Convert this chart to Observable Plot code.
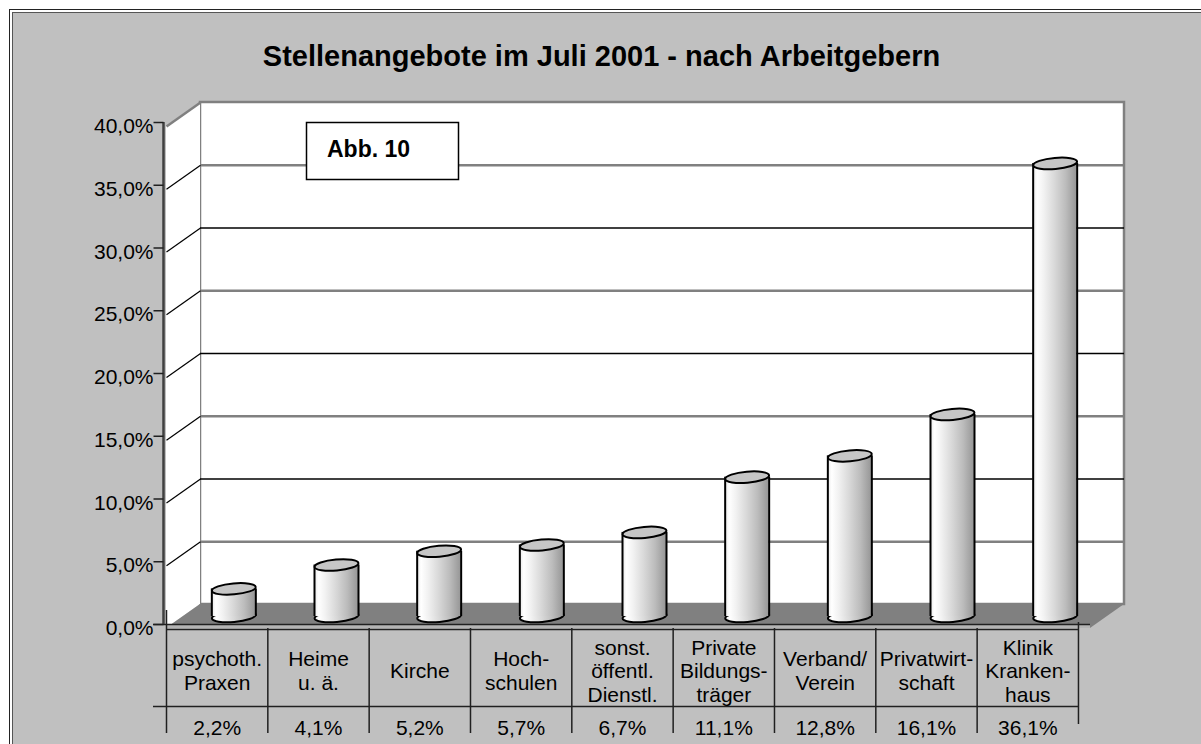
<!DOCTYPE html>
<html><head><meta charset="utf-8">
<script src="https://cdn.jsdelivr.net/npm/d3@7"></script>
<script src="https://cdn.jsdelivr.net/npm/@observablehq/plot@0.6"></script>
<style>html,body{margin:0;padding:0;background:#fff;overflow:hidden}#chart{position:absolute;left:0;top:0}</style>
</head><body><div id="chart"></div>
<script>
// ---- data ----
const categories = ["psychoth.\nPraxen","Heime\nu. ä.","Kirche","Hoch-\nschulen","sonst.\nöffentl.\nDienstl.","Private\nBildungs-\nträger","Verband/\nVerein","Privatwirt-\nschaft","Klinik\nKranken-\nhaus"];
const values = [2.2, 4.1, 5.2, 5.7, 6.7, 11.1, 12.8, 16.1, 36.1];
const valueLabels = ["2,2%","4,1%","5,2%","5,7%","6,7%","11,1%","12,8%","16,1%","36,1%"];
const yTicks = [0, 5, 10, 15, 20, 25, 30, 35, 40];
const title = "Stellenangebote im Juli 2001 - nach Arbeitgebern";
const figLabel = "Abb. 10";

// ---- layout ----
const W = 1201, H = 744;
const mL = 166, mR = W - 1090, mT = 126, mB = H - 628;
const n = categories.length;
const colW = (W - mL - mR) / n;
const kY = (H - mT - mB) / 40;
const ux = px => px / colW;
const uy = px => px / kY;
const DX = 34, DY = 24;              // 3D depth in px
const tableFrac = 101.33 / colW;     // table column width relative to plot column
const cylR = 22, cylRy = 5.5, cylDx = 16, cylDy = -12;
const FONT = "'Liberation Sans', Arial, Helvetica, sans-serif";
const fmtPct = v => v.toFixed(1).replace(".", ",") + "%";

const data = categories.map((c, i) => ({i, cat: c, v: values[i], label: valueLabels[i]}));

const K = 0.5523;
const ellipseSymbol = (rx, ry) => ({draw(ctx) {
  ctx.moveTo(rx, 0);
  ctx.bezierCurveTo(rx, ry*K, rx*K, ry, 0, ry);
  ctx.bezierCurveTo(-rx*K, ry, -rx, ry*K, -rx, 0);
  ctx.bezierCurveTo(-rx, -ry*K, -rx*K, -ry, 0, -ry);
  ctx.bezierCurveTo(rx*K, -ry, rx, -ry*K, rx, 0);
  ctx.closePath();
}});
const rectSymbol = (w, h) => ({draw(ctx) {
  ctx.moveTo(-w/2, -h/2); ctx.lineTo(w/2, -h/2); ctx.lineTo(w/2, h/2); ctx.lineTo(-w/2, h/2); ctx.closePath();
}});
const tickSymbol = {draw(ctx) { ctx.moveTo(-10, 0); ctx.lineTo(0, 0); }};

const sideWall = [{x: 0, y1: 0, y2: 40}, {x: ux(DX), y1: uy(DY), y2: 40 + uy(DY)}];
const floorPts = [
  {x: 0, y1: 0, y2: 0},
  {x: ux(DX), y1: 0, y2: uy(DY)},
  {x: n, y1: 0, y2: uy(DY)},
  {x: n + ux(DX), y1: uy(DY), y2: uy(DY)}
];
const inner = yTicks.filter(t => t > 0 && t < 40);
const cx = d => d.i + 0.5;

const plot = Plot.plot({
  width: W, height: H,
  marginLeft: mL, marginRight: mR, marginTop: mT, marginBottom: mB,
  x: {domain: [0, n], axis: null},
  y: {domain: [0, 40], axis: null},
  style: {background: "transparent", fontFamily: FONT, fontSize: "20px", color: "black", overflow: "visible"},
  marks: [
    // back wall
    Plot.rect([0], {x1: 0, x2: n, y1: 0, y2: 40, dx: DX, dy: -DY, fill: "white", stroke: "#808080", strokeWidth: 2.5}),
    // side wall
    Plot.area(sideWall, {x1: "x", y1: "y1", y2: "y2", fill: "white"}),
    Plot.link([40], {x1: 0, y1: d => d, x2: ux(DX), y2: d => d + uy(DY), stroke: "#808080", strokeWidth: 2.5}),
    // gridlines on back wall
    Plot.ruleY(inner.filter(t => (t/5) % 2 === 1), {x1: 0, x2: n, dx: DX, dy: -DY, stroke: "#808080", strokeWidth: 2.5}),
    Plot.ruleY(inner.filter(t => (t/5) % 2 === 0), {x1: 0, x2: n, dx: DX, dy: -DY, stroke: "black", strokeWidth: 1.3}),
    // gridlines on side wall
    Plot.link(inner, {x1: 0, y1: d => d, x2: ux(DX), y2: d => d + uy(DY), stroke: "black", strokeWidth: 1.2}),
    // floor
    Plot.area(floorPts, {x1: "x", y1: "y1", y2: "y2", fill: "#808080"}),
    Plot.rect([0], {x1: 0, x2: n, y1: 0, y2: uy(4), fill: "#b4b4b4"}),
    Plot.ruleY([uy(4)], {x1: -ux(13), x2: n, stroke: "#202020", strokeWidth: 1.5}),
    // figure label box
    Plot.dot([figLabel], {frameAnchor: "top-left", dx: 382 - mL, dy: 150.5 - mT, symbol: rectSymbol(152, 57), r: 5, fill: "white", stroke: "black", strokeWidth: 1.5}),
    Plot.text([figLabel], {frameAnchor: "top-left", dx: 368 - mL, dy: 149 - mT, textAnchor: "middle", lineAnchor: "middle", fontWeight: "bold", fontSize: 23}),
    // cylinders
    Plot.dot(data, {x: cx, y: () => 0, symbol: ellipseSymbol(cylR, cylRy), r: 5, rotate: -5, dx: cylDx, dy: cylDy, fill: "url(#cylGrad)", stroke: "black", strokeWidth: 2}),
    Plot.rect(data, {x1: d => cx(d) - ux(cylR), x2: d => cx(d) + ux(cylR), y1: () => 0, y2: "v", dx: cylDx, dy: cylDy, fill: "url(#cylGrad)"}),
    Plot.ruleX(data, {x: d => cx(d) - ux(cylR), y1: () => 0, y2: "v", dx: cylDx, dy: cylDy, stroke: "black", strokeWidth: 2}),
    Plot.ruleX(data, {x: d => cx(d) + ux(cylR), y1: () => 0, y2: "v", dx: cylDx, dy: cylDy, stroke: "black", strokeWidth: 2}),
    Plot.dot(data, {x: cx, y: "v", symbol: ellipseSymbol(cylR, cylRy), r: 5, rotate: -5, dx: cylDx, dy: cylDy, fill: "#c6c6c6", stroke: "black", strokeWidth: 2}),
    // y axis
    Plot.ruleX([0], {y1: 0, y2: 40, dx: -3, dy: -4, stroke: "#404040", strokeWidth: 2.5}),
    Plot.dot(yTicks, {y: d => d, frameAnchor: "left", dx: -3, dy: -4, symbol: tickSymbol, r: 5, stroke: "#202020", strokeWidth: 1.5}),
    Plot.text(yTicks, {y: d => d, frameAnchor: "left", dx: -13, text: fmtPct, textAnchor: "end", lineAnchor: "middle", fontSize: 21}),
    // data table
    Plot.ruleY([-uy(1)], {x1: 0, x2: n * tableFrac, stroke: "#202020", strokeWidth: 1.5}),
    Plot.ruleY([-uy(78)], {x1: -ux(13), x2: n * tableFrac, stroke: "#202020", strokeWidth: 1.5}),
    Plot.ruleX(d3.range(n + 1), {x: d => d * tableFrac, y1: d => d === 0 ? uy(18) : (d === n ? uy(6) : 0), y2: d => d === n ? -uy(96) : -uy(105), stroke: "#202020", strokeWidth: 1.5}),
    Plot.text(data, {x: d => (d.i + 0.5) * tableFrac, y: () => -uy(42), text: "cat", lineHeight: 1.12, fontSize: 21, lineAnchor: "middle"}),
    Plot.text(data, {x: d => (d.i + 0.5) * tableFrac, y: () => -uy(100), text: "label", fontSize: 21, lineAnchor: "middle"}),
    // title
    Plot.text([title], {frameAnchor: "top", dx: 601 - (mL + (W - mL - mR) / 2), dy: 56 - mT, textAnchor: "middle", lineAnchor: "middle", fontWeight: "bold", fontSize: 29})
  ]
});

const svg = d3.select(plot);
const defs = svg.insert("defs", ":first-child");
const g = defs.append("linearGradient").attr("id", "cylGrad").attr("x1", 0).attr("x2", 1).attr("y1", 0).attr("y2", 0);
[[0, "#e6e6e6"], [0.1, "#ffffff"], [0.25, "#f2f2f2"], [0.5, "#d8d8d8"], [0.75, "#bcbcbc"], [1, "#969696"]]
  .forEach(([o, c]) => g.append("stop").attr("offset", o).attr("stop-color", c));
const bg = svg.insert("g", "defs + *");
bg.append("rect").attr("width", W).attr("height", H).attr("fill", "white");
bg.append("rect").attr("x", 9.5).attr("y", 9.5).attr("width", W + 20).attr("height", H + 20).attr("fill", "white").attr("stroke", "#222");
bg.append("rect").attr("x", 12.5).attr("y", 12.5).attr("width", W + 20).attr("height", H + 20).attr("fill", "#c0c0c0").attr("stroke", "#555");
document.getElementById("chart").appendChild(plot);
</script>
</body></html>
